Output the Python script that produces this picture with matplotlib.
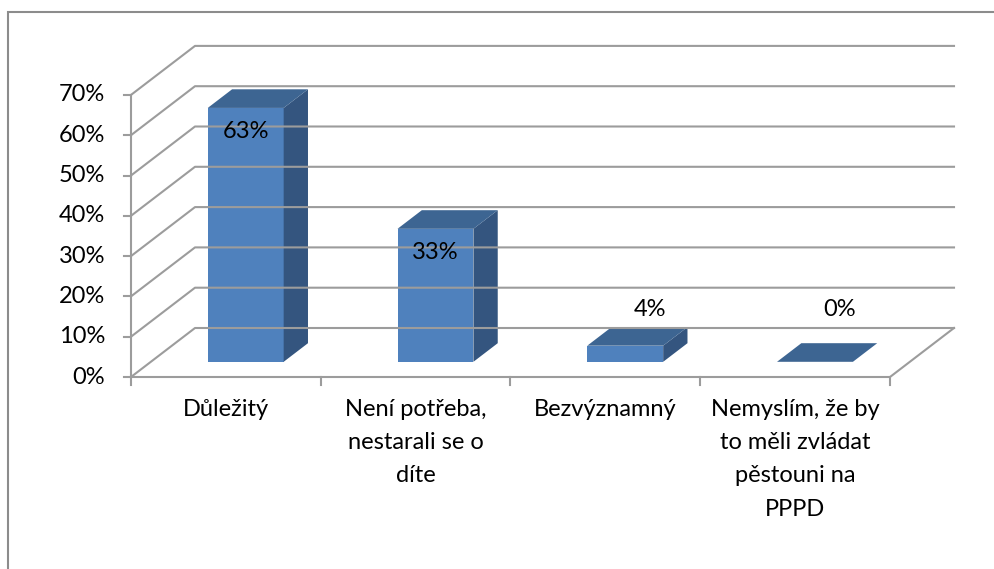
import matplotlib
matplotlib.use("Agg")
import matplotlib.pyplot as plt
from matplotlib.patches import Polygon

categories = [
    "Důležitý",
    "Není potřeba,\nnestarali se o\ndíte",
    "Bezvýznamný",
    "Nemyslím, že by\nto měli zvládat\npěstouni na\nPPPD",
]
values = [63, 33, 4, 0]
ticks = [0, 10, 20, 30, 40, 50, 60, 70]
tick_labels = ["%d%%" % t for t in ticks]
value_labels = ["%d%%" % v for v in values]

# pixel scale of the plot box and the oblique depth offset
PX_CAT, PX_PCT = 189.75, 4.03
ORIGIN = (131, 377)
DX, DY = 64 / PX_CAT, 49 / PX_PCT
BAR_W = 0.4
D0, D1 = 0.31, 0.69

FRONT = "#4F81BD"
TOP = "#3D6592"
SIDE = "#34557F"
GRID = "#9C9C9C"
FONT = "Lato"
FS = 17


def proj(x, v, d):
    return (x + d * DX, v + d * DY)


def px(x, y):
    # pixel position (from top-left) -> data coords
    return ((x - ORIGIN[0]) / PX_CAT, (ORIGIN[1] - y) / PX_PCT)


fig = plt.figure(figsize=(9.95, 5.69), dpi=100)
ax = fig.add_axes([0, 0, 1, 1])
x0, y1 = px(0, 0)
x1, y0 = px(995, 569)
ax.set_xlim(x0, x1)
ax.set_ylim(y0, y1)
ax.axis("off")

# outer frame
fx, fy = px(8, 12)
ax.plot([fx, fx, x1 + 1], [y0 - 1, fy, fy], color="#8C8C8C", lw=1.5,
        solid_joinstyle="miter")

n = len(categories)
# wall gridlines: diagonal on the side wall, horizontal on the back wall
for t in ticks:
    a = proj(0, t, 0)
    b = proj(0, t, 1)
    c = proj(n, t, 1)
    ax.plot([a[0], b[0], c[0]], [a[1], b[1], c[1]], color=GRID, lw=1.5)

# floor outline
a, b, c = proj(0, 0, 0), proj(n, 0, 0), proj(n, 0, 1)
ax.plot([a[0], b[0], c[0]], [a[1], b[1], c[1]], color=GRID, lw=1.5)

# value axis
ax.plot([0, 0], [0, ticks[-1]], color=GRID, lw=1.5)
tick_len = 7 / PX_CAT
for t, lab in zip(ticks, tick_labels):
    ax.plot([-tick_len, 0], [t, t], color=GRID, lw=1.5)
    ax.text(-26 / PX_CAT, t, lab, ha="right", va="center",
            fontsize=FS, family=FONT, color="black")

# category ticks and labels
for i in range(n + 1):
    ax.plot([i, i], [0, -8 / PX_PCT], color=GRID, lw=1.5)
for i, lab in enumerate(categories):
    ax.text(i + 0.5, -22 / PX_PCT, lab, ha="center", va="top",
            fontsize=FS, family=FONT, linespacing=1.72, color="black")

# bars
for i, (v, lab) in enumerate(zip(values, value_labels)):
    l, r = i + 0.5 - BAR_W / 2, i + 0.5 + BAR_W / 2
    top = [proj(l, v, D0), proj(r, v, D0), proj(r, v, D1), proj(l, v, D1)]
    if v > 0:
        front = [proj(l, 0, D0), proj(r, 0, D0), proj(r, v, D0), proj(l, v, D0)]
        side = [proj(r, 0, D0), proj(r, 0, D1), proj(r, v, D1), proj(r, v, D0)]
        ax.add_patch(Polygon(front, closed=True, fc=FRONT, ec="none"))
        ax.add_patch(Polygon(side, closed=True, fc=SIDE, ec="none"))
    ax.add_patch(Polygon(top, closed=True, fc=TOP, ec="none"))

    if v > 20:
        lx, ly = proj(i + 0.5, v, D0)
        ax.annotate(lab, (lx, ly), xytext=(0, -17), textcoords="offset points",
                    ha="center", va="center", fontsize=FS, family=FONT)
    else:
        lx, ly = proj(i + 0.5, max(v, 4), 0.7)
        ax.annotate(lab, (lx, ly), xytext=(0, 12), textcoords="offset points",
                    ha="center", va="center", fontsize=FS, family=FONT)

fig.savefig("out.png", dpi=100)
